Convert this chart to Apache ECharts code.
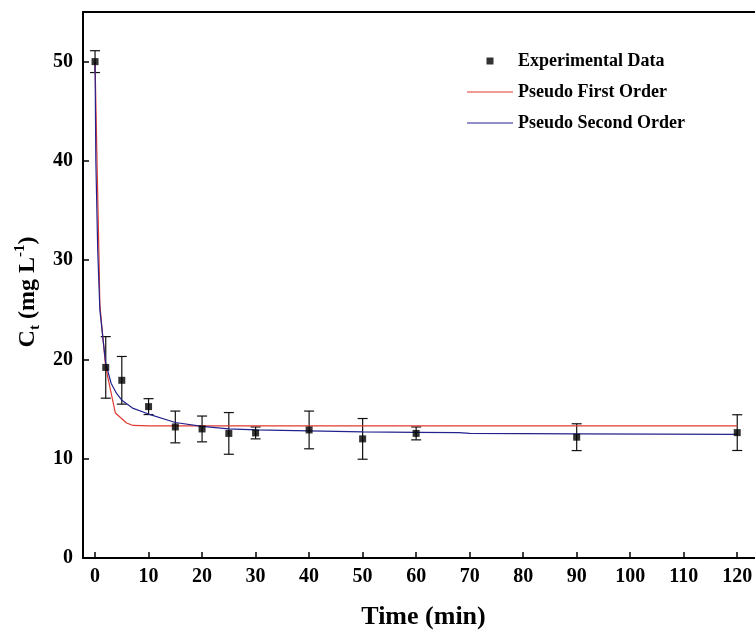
<!DOCTYPE html>
<html>
<head>
<meta charset="utf-8">
<script src="https://cdn.jsdelivr.net/npm/echarts@6/dist/echarts.min.js"></script>
<style>html,body{margin:0;padding:0;background:#fff}#c{width:755px;height:631px}</style>
</head>
<body>
<div id="c"></div>
<script>
// Experimental data
var expTime = [0, 2, 5, 10, 15, 20, 25, 30, 40, 50, 60, 90, 120];
var expCt   = [50.0, 19.2, 17.9, 15.25, 13.2, 13.0, 12.55, 12.6, 12.9, 12.0, 12.55, 12.17, 12.63];
var expErr  = [1.1, 3.1, 2.4, 0.8, 1.6, 1.3, 2.1, 0.6, 1.9, 2.05, 0.65, 1.35, 1.8];
// Pseudo first order fit (traced)
var pfoTime = [0, 0.37, 0.75, 0.9, 1.5, 2, 3.8, 5.9, 7.1, 10, 120];
var pfoCt   = [50, 40, 30, 25.5, 22, 19.2, 14.6, 13.6, 13.35, 13.3, 13.3];
// Pseudo second order fit (traced)
var psoTime = [0, 0.15, 0.5, 0.9, 1.5, 2, 3, 4, 5, 7, 10, 15, 20, 25, 30, 40, 50, 60, 68, 70, 90, 120];
var psoCt   = [50, 40, 31, 25, 22, 19.6, 17.6, 16.6, 15.9, 15.1, 14.5, 13.65, 13.25, 13.0, 12.9, 12.8, 12.7, 12.65, 12.62, 12.55, 12.5, 12.45];
// Tick labels
var xTicks = [0, 10, 20, 30, 40, 50, 60, 70, 80, 90, 100, 110, 120];
var yTicks = [0, 10, 20, 30, 40, 50];

var FONT = '"Liberation Serif", "Times New Roman", serif';
var chart = echarts.init(document.getElementById('c'), null, {renderer: 'canvas'});

function zip(a, b) { return a.map(function (v, i) { return [v, b[i]]; }); }
var errData = expTime.map(function (t, i) { return [t, expCt[i] - expErr[i], expCt[i] + expErr[i]]; });

var axisCommon = {
  axisLine: {show: true, onZero: false, lineStyle: {color: '#000', width: 2}},
  splitLine: {show: false}
};
var LINE_ICON = 'path://M0,0L100,0L100,2.6L0,2.6Z';

chart.setOption({
  animation: false,
  backgroundColor: '#fff',
  grid: {left: 83, top: 12, width: 681, height: 546, containLabel: false, outerBoundsMode: 'none'},
  xAxis: [
    Object.assign({}, axisCommon, {
      type: 'value', min: -2.25, max: 125, position: 'bottom',
      axisTick: {show: true, inside: true, length: 6, lineStyle: {color: '#000', width: 1.5}, customValues: xTicks},
      axisLabel: {show: true, margin: 9, customValues: xTicks, color: '#000', fontFamily: FONT, fontWeight: 'bold', fontSize: 20},
      name: 'Time (min)', nameLocation: 'middle', nameGap: 46,
      nameTextStyle: {color: '#000', fontFamily: FONT, fontWeight: 'bold', fontSize: 26}
    }),
    Object.assign({}, axisCommon, {
      type: 'value', min: -2.25, max: 125, position: 'top',
      axisTick: {show: false}, axisLabel: {show: false}
    })
  ],
  yAxis: [
    Object.assign({}, axisCommon, {
      type: 'value', min: 0, max: 55, position: 'left',
      axisTick: {show: true, inside: true, length: 6, lineStyle: {color: '#000', width: 1.5}, customValues: yTicks},
      axisLabel: {show: true, margin: 10, customValues: yTicks, color: '#000', fontFamily: FONT, fontWeight: 'bold', fontSize: 20}
    })
  ],
  legend: {
    orient: 'vertical', left: 467, top: 51, padding: 0,
    itemWidth: 46, itemHeight: 7, itemGap: 11,
    textStyle: {color: '#000', fontFamily: FONT, fontWeight: 'bold', fontSize: 18, lineHeight: 20},
    data: [
      {name: 'Experimental Data', icon: 'path://M0,0L1,0L1,1L0,1Z', itemStyle: {color: '#000'}},
      {name: 'Pseudo First Order', icon: LINE_ICON},
      {name: 'Pseudo Second Order', icon: LINE_ICON}
    ]
  },
  graphic: [{
    type: 'text', x: 28, y: 292, rotation: Math.PI / 2,
    style: {
      text: '{a|C}{s|t}{a| (mg L}{p|-1}{a|)}',
      align: 'center', verticalAlign: 'middle',
      rich: {
        a: {fontFamily: FONT, fontWeight: 'bold', fontSize: 24, fill: '#000', lineHeight: 30},
        s: {fontFamily: FONT, fontWeight: 'bold', fontSize: 15, fill: '#000', verticalAlign: 'bottom', lineHeight: 30},
        p: {fontFamily: FONT, fontWeight: 'bold', fontSize: 15, fill: '#000', verticalAlign: 'top', lineHeight: 30}
      }
    }
  }],
  series: [
    {
      name: 'Error', type: 'custom', z: 3,
      data: errData,
      renderItem: function (params, api) {
        var x = api.value(0);
        var lo = api.coord([x, api.value(1)]);
        var hi = api.coord([x, api.value(2)]);
        var hw = 5;
        var st = {stroke: '#111', lineWidth: 1.2};
        return {type: 'group', children: [
          {type: 'line', shape: {x1: lo[0], y1: lo[1], x2: hi[0], y2: hi[1]}, style: st},
          {type: 'line', shape: {x1: lo[0] - hw, y1: lo[1], x2: lo[0] + hw, y2: lo[1]}, style: st},
          {type: 'line', shape: {x1: hi[0] - hw, y1: hi[1], x2: hi[0] + hw, y2: hi[1]}, style: st}
        ]};
      },
      silent: true
    },
    {
      name: 'Pseudo First Order', type: 'line', z: 4, showSymbol: false, symbol: 'none',
      data: zip(pfoTime, pfoCt), lineStyle: {color: '#e03a30', width: 1.2}, itemStyle: {color: '#e03a30'}
    },
    {
      name: 'Pseudo Second Order', type: 'line', z: 5, showSymbol: false, symbol: 'none',
      data: zip(psoTime, psoCt), lineStyle: {color: '#23238f', width: 1.2}, itemStyle: {color: '#23238f'}
    },
    {
      name: 'Experimental Data', type: 'scatter', z: 6, symbol: 'rect', symbolSize: 7,
      data: zip(expTime, expCt), itemStyle: {color: '#000'}
    }
  ]
});
</script>
</body>
</html>
